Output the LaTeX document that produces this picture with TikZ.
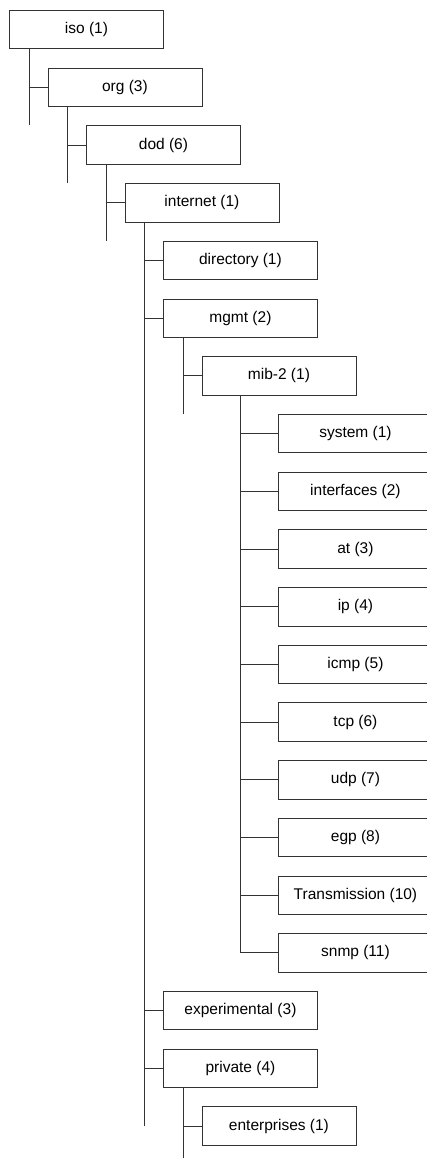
\documentclass[tikz,border=0pt]{standalone}
\usepackage{fontspec}
\setmainfont{Liberation Sans}
\begin{document}
\begin{tikzpicture}[x=1pt,y=-1pt,
  box/.style={draw=black!80, line width=0.9pt, rectangle, anchor=north west,
    minimum width=154pt, minimum height=38.5pt, inner sep=0pt,
    font=\fontsize{15.5}{18}\selectfont},
  link/.style={draw=black!80, line width=0.9pt}]
\useasboundingbox (0,0) rectangle (427,1158);
% row pitch 57.7, level indent 38.5
\node[box] (iso)   at (9,   10.0)   {iso (1)};
\node[box] (org)   at (47.5, 67.7)  {org (3)};
\node[box] (dod)   at (86,  125.4)  {dod (6)};
\node[box] (inet)  at (124.5,183.1) {internet (1)};
\node[box] (dir)   at (163, 240.8)  {directory (1)};
\node[box] (mgmt)  at (163, 298.5)  {mgmt (2)};
\node[box] (mib)   at (201.5,356.2) {mib-2 (1)};
\node[box] (sys)   at (278, 413.9)  {system (1)};
\node[box] (ifs)   at (278, 471.6)  {interfaces (2)};
\node[box] (at)    at (278, 529.3)  {at (3)};
\node[box] (ip)    at (278, 587.0)  {ip (4)};
\node[box] (icmp)  at (278, 644.7)  {icmp (5)};
\node[box] (tcp)   at (278, 702.4)  {tcp (6)};
\node[box] (udp)   at (278, 760.1)  {udp (7)};
\node[box] (egp)   at (278, 817.8)  {egp (8)};
\node[box] (trans) at (278, 875.5)  {Transmission (10)};
\node[box] (snmp)  at (278, 933.2)  {snmp (11)};
\node[box] (exp)   at (163, 990.9)  {experimental (3)};
\node[box] (priv)  at (163, 1048.6) {private (4)};
\node[box] (ent)   at (201.5,1106.3){enterprises (1)};

% trunk positions below each parent
\coordinate (isoL)  at ([xshift=20pt]iso.south west);
\coordinate (orgL)  at ([xshift=20pt]org.south west);
\coordinate (dodL)  at ([xshift=20pt]dod.south west);
\coordinate (inetL) at ([xshift=20pt]inet.south west);
\coordinate (mgmtL) at ([xshift=20pt]mgmt.south west);
\coordinate (mibL)  at ([xshift=38.5pt]mib.south west);
\coordinate (privL) at ([xshift=20pt]priv.south west);

% trunk ends
\coordinate (isoE)  at ([yshift=-38pt]org.west);
\coordinate (orgE)  at ([yshift=-38pt]dod.west);
\coordinate (dodE)  at ([yshift=-38pt]inet.west);
\coordinate (inetE) at (ent.west);
\coordinate (mgmtE) at ([yshift=-38pt]mib.west);
\coordinate (mibE)  at (snmp.west);
\coordinate (privE) at (0,1158);

% vertical trunks
\draw[link] (isoL)  -- (isoL  |- isoE);
\draw[link] (orgL)  -- (orgL  |- orgE);
\draw[link] (dodL)  -- (dodL  |- dodE);
\draw[link] (inetL) -- (inetL |- inetE);
\draw[link] (mgmtL) -- (mgmtL |- mgmtE);
\draw[link] (mibL)  -- (mibL  |- mibE);
\draw[link] (privL) -- (privL |- privE);

% branches
\draw[link] (isoL  |- org.west)  -- (org.west);
\draw[link] (orgL  |- dod.west)  -- (dod.west);
\draw[link] (dodL  |- inet.west) -- (inet.west);
\foreach \c in {dir,mgmt,exp,priv}
  \draw[link] (inetL |- \c.west) -- (\c.west);
\draw[link] (mgmtL |- mib.west) -- (mib.west);
\foreach \c in {sys,ifs,at,ip,icmp,tcp,udp,egp,trans,snmp}
  \draw[link] (mibL |- \c.west) -- (\c.west);
\draw[link] (privL |- ent.west) -- (ent.west);
\end{tikzpicture}
\end{document}
